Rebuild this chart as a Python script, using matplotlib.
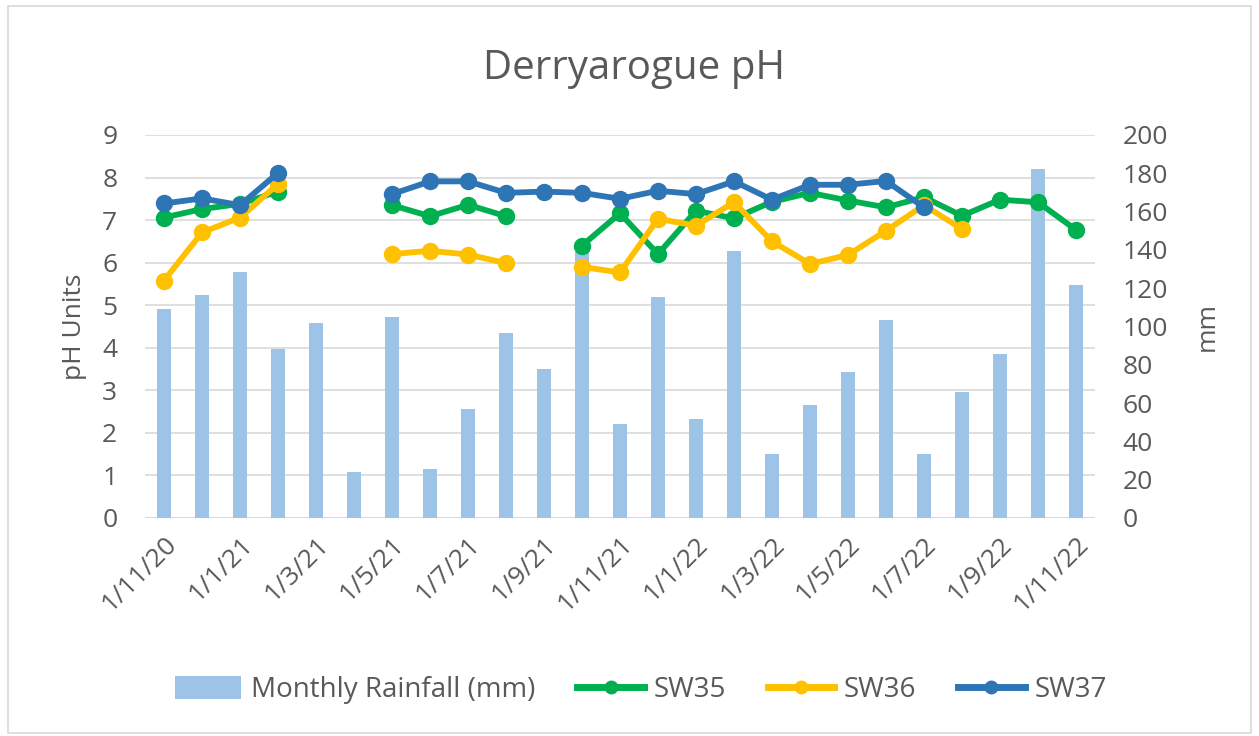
import numpy as np
import matplotlib
matplotlib.use("Agg")
import matplotlib.pyplot as plt
from matplotlib.lines import Line2D
from matplotlib.patches import Patch, Rectangle

plt.rcParams['font.family'] = ['Open Sans', 'DejaVu Sans']

# ---- data ----
months = ["1/11/20", "1/12/20", "1/1/21", "1/2/21", "1/3/21", "1/4/21", "1/5/21",
          "1/6/21", "1/7/21", "1/8/21", "1/9/21", "1/10/21", "1/11/21", "1/12/21",
          "1/1/22", "1/2/22", "1/3/22", "1/4/22", "1/5/22", "1/6/22", "1/7/22",
          "1/8/22", "1/9/22", "1/10/22", "1/11/22"]
rainfall = [109, 116.5, 128.7, 88, 101.7, 23.9, 105.2, 25.6, 57, 96.5, 78, 139,
            49.2, 115.5, 51.8, 139.2, 33.5, 58.8, 76.2, 103.4, 33.5, 65.8, 85.8,
            182, 121.8]
nan = np.nan
sw35 = [7.06, 7.26, 7.38, 7.67, nan, nan, 7.35, 7.09, 7.36, 7.09, nan, 6.4,
        7.16, 6.2, 7.22, 7.04, 7.43, 7.64, 7.46, 7.3, 7.54, 7.1, 7.48, 7.42, 6.77]
sw36 = [5.58, 6.71, 7.06, 7.85, nan, nan, 6.2, 6.28, 6.19, 5.99, nan, 5.9,
        5.77, 7.03, 6.87, 7.42, 6.5, 5.97, 6.18, 6.75, 7.35, 6.79, nan, nan, nan]
sw37 = [7.39, 7.51, 7.35, 8.11, nan, nan, 7.61, 7.91, 7.91, 7.64, 7.67, 7.64,
        7.5, 7.69, 7.61, 7.91, 7.48, 7.83, 7.83, 7.92, 7.3, nan, nan, nan, nan]
tick_labels = months[::2]

TXT = '#595959'
GRID = '#d9d9d9'
C_BAR = '#9dc3e6'
C35 = '#00b050'
C36 = '#ffc000'
C37 = '#2e75b6'
FS = 19

fig = plt.figure(figsize=(12.59, 7.36), dpi=100)
fig.patches.append(Rectangle((0.006, 0.004), 0.988, 0.988, transform=fig.transFigure,
                             fill=False, edgecolor=GRID, linewidth=1.2))

ax = fig.add_axes([0.1152, 0.2962, 0.7545, 0.5204])
ax2 = ax.twinx()
x = np.arange(len(months))

ax2.bar(x, rainfall, width=0.39, color=C_BAR, zorder=2)
ax2.set_ylim(0, 200)
ax2.set_yticks(range(0, 201, 20))

ax.set_zorder(ax2.get_zorder() + 1)
ax.patch.set_visible(False)
for s, c in [(sw35, C35), (sw36, C36), (sw37, C37)]:
    ax.plot(x, s, color=c, linewidth=4.2, marker='o', markersize=11.5, zorder=3)

ax.set_ylim(0, 9)
ax.set_yticks(range(0, 10))
ax.set_xlim(-0.5, len(months) - 0.5)
ax.set_xticks(x[::2])
ax.set_xticklabels(tick_labels, rotation=45, ha='right', va='top',
                   rotation_mode='anchor')
for v in range(1, 10):
    ax2.axhline(v * 200 / 9, color=GRID, linewidth=1.2, zorder=1)
ax2.axhline(0, color=GRID, linewidth=1.5, zorder=1)

for a in (ax, ax2):
    for sp in a.spines.values():
        sp.set_visible(False)
    a.tick_params(length=0, colors=TXT, labelsize=FS)
ax.tick_params(axis='y', pad=20)
ax2.tick_params(axis='y', pad=20)
ax.tick_params(axis='x', pad=10)

ax.set_ylabel('pH Units', fontsize=FS, color=TXT, labelpad=11)
ax2.set_ylabel('mm', fontsize=FS, color=TXT, labelpad=19)
fig.text(0.504, 0.906, 'Derryarogue pH', ha='center', va='center',
         fontsize=29, color=TXT)

handles = [Patch(facecolor=C_BAR, edgecolor='none'),
           Line2D([], [], color=C35, lw=5, marker='o', markersize=9),
           Line2D([], [], color=C36, lw=5, marker='o', markersize=9),
           Line2D([], [], color=C37, lw=5, marker='o', markersize=9)]
labels = ['Monthly Rainfall (mm)', 'SW35', 'SW36', 'SW37']
fig.legend(handles, labels, loc='center', bbox_to_anchor=(0.509, 0.062), ncol=4,
           frameon=False, fontsize=20, labelcolor=TXT, handlelength=2.4,
           handleheight=0.9, columnspacing=1.5, handletextpad=0.35)

fig.savefig('out.png', dpi=100)
